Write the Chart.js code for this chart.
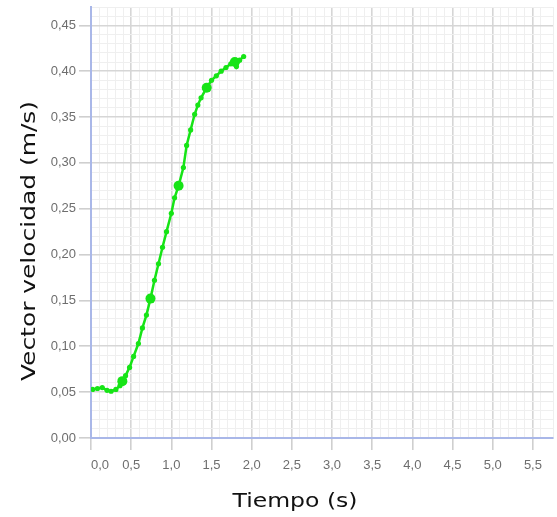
<!DOCTYPE html>
<html>
<head>
<meta charset="utf-8">
<title>Vector velocidad</title>
<script src="https://cdn.jsdelivr.net/npm/chart.js@4.4.1/dist/chart.umd.min.js"></script>
<style>
  html, body { margin: 0; padding: 0; background: #ffffff; }
  #wrap { width: 557px; height: 517px; position: relative; }
</style>
</head>
<body>
<div id="wrap"><canvas id="chart"></canvas></div>
<script>
// Measured samples: time (s) and velocity magnitude (m/s)
const timeSeconds = [0.02, 0.08, 0.14, 0.20, 0.25, 0.31, 0.36, 0.39, 0.43, 0.48,
                     0.53, 0.59, 0.64, 0.69, 0.74, 0.79, 0.84, 0.89, 0.94, 1.00,
                     1.04, 1.09, 1.15, 1.19, 1.24, 1.29, 1.33, 1.37, 1.44, 1.50,
                     1.56, 1.62, 1.68, 1.74, 1.79, 1.81, 1.85, 1.90];
const velocity =    [0.053, 0.054, 0.055, 0.052, 0.051, 0.053, 0.057, 0.062, 0.068, 0.077,
                     0.089, 0.103, 0.120, 0.134, 0.152, 0.172, 0.190, 0.208, 0.225, 0.245,
                     0.262, 0.275, 0.295, 0.319, 0.336, 0.353, 0.363, 0.371, 0.382, 0.390,
                     0.395, 0.400, 0.404, 0.408, 0.410, 0.405, 0.412, 0.416];
// Samples drawn with a larger marker
const markedSamples = [7, 14, 21, 28, 34];

// Axis ranges and label spacing
const xRange = [0, 5.75];
const yRange = [0, 0.47];
const xMinorStep = 0.1, xMajorStep = 0.5;
const yMinorStep = 0.01, yMajorStep = 0.05;

const xTitle = 'Tiempo (s)';
const yTitle = 'Vector velocidad (m/s)';

const isMultiple = (v, step) => Math.abs(v / step - Math.round(v / step)) < 1e-6;
const commaDecimals = (v, digits) => v.toFixed(digits).replace('.', ',');

const GREEN = 'rgb(22, 228, 22)';
const MAJOR_GRID = '#d6d6d6';
const MINOR_GRID = '#efefef';
const AXIS_BLUE = '#a9b7e8';
const TICK_FONT = { family: '"Liberation Sans", Arial, sans-serif', size: 13 };

// Axis titles, drawn stretched to the width of the original lettering
function drawFittedText(ctx, text, cx, cy, length, angle) {
  const w = ctx.measureText(text).width;
  ctx.save();
  ctx.translate(cx, cy);
  ctx.rotate(angle);
  ctx.scale(length / w, 1);
  ctx.fillText(text, 0, 0);
  ctx.restore();
}

const axisTitles = {
  id: 'axisTitles',
  afterDraw(chart) {
    const { ctx } = chart;
    ctx.save();
    ctx.fillStyle = '#111111';
    ctx.font = '20px "DejaVu Sans", sans-serif';
    ctx.textAlign = 'center';
    ctx.textBaseline = 'alphabetic';
    drawFittedText(ctx, xTitle, 295, 507, 125, 0);
    drawFittedText(ctx, yTitle, 35, 241, 280, -Math.PI / 2);
    ctx.restore();
  }
};

// Fixed axis box sizes; no extra label padding around the plot area
function fixBox(size) {
  return s => {
    if (s.isHorizontal()) s.height = size; else s.width = size;
    s.paddingLeft = s.paddingRight = s.paddingTop = s.paddingBottom = 0;
  };
}

const points = timeSeconds.map((t, i) => ({ x: t, y: velocity[i] }));

new Chart(document.getElementById('chart'), {
  type: 'line',
  data: {
    datasets: [{
      data: points,
      borderColor: GREEN,
      backgroundColor: GREEN,
      borderWidth: 2.5,
      tension: 0,
      pointRadius: ctx => markedSamples.includes(ctx.dataIndex) ? 5 : 2.6,
      pointBorderWidth: 0,
      pointBackgroundColor: GREEN,
      fill: false
    }]
  },
  options: {
    responsive: true,
    maintainAspectRatio: false,
    animation: false,
    layout: { padding: { top: 7, right: 0, bottom: 0, left: 0 } },
    plugins: {
      legend: { display: false },
      tooltip: { enabled: false }
    },
    scales: {
      x: {
        type: 'linear',
        min: xRange[0],
        max: xRange[1],
        afterFit: fixBox(79),
        border: { color: AXIS_BLUE, width: 2 },
        grid: {
          color: c => isMultiple(c.tick.value, xMajorStep) ? MAJOR_GRID : MINOR_GRID,
          lineWidth: c => isMultiple(c.tick.value, xMajorStep) ? 1.6 : 1,
          tickColor: c => isMultiple(c.tick.value, xMajorStep) ? '#cfcfcf' : 'rgba(0,0,0,0)',
          tickLength: 12
        },
        ticks: {
          stepSize: xMinorStep,
          autoSkip: false,
          maxRotation: 0,
          align: 'inner',
          padding: 8,
          color: '#6e6e6e',
          font: TICK_FONT,
          callback: v => isMultiple(v, xMajorStep) ? commaDecimals(v, 1) : ''
        }
      },
      y: {
        type: 'linear',
        min: yRange[0],
        max: yRange[1],
        afterFit: fixBox(91),
        border: { color: AXIS_BLUE, width: 2 },
        grid: {
          color: c => isMultiple(c.tick.value, yMajorStep) ? MAJOR_GRID : MINOR_GRID,
          lineWidth: c => isMultiple(c.tick.value, yMajorStep) ? 1.6 : 1,
          tickColor: c => isMultiple(c.tick.value, yMajorStep) ? '#cfcfcf' : 'rgba(0,0,0,0)',
          tickLength: 12
        },
        ticks: {
          stepSize: yMinorStep,
          autoSkip: false,
          padding: 3,
          color: '#6e6e6e',
          font: TICK_FONT,
          callback: v => isMultiple(v, yMajorStep) ? commaDecimals(v, 2) : ''
        }
      }
    }
  },
  plugins: [axisTitles]
});
</script>
</body>
</html>
